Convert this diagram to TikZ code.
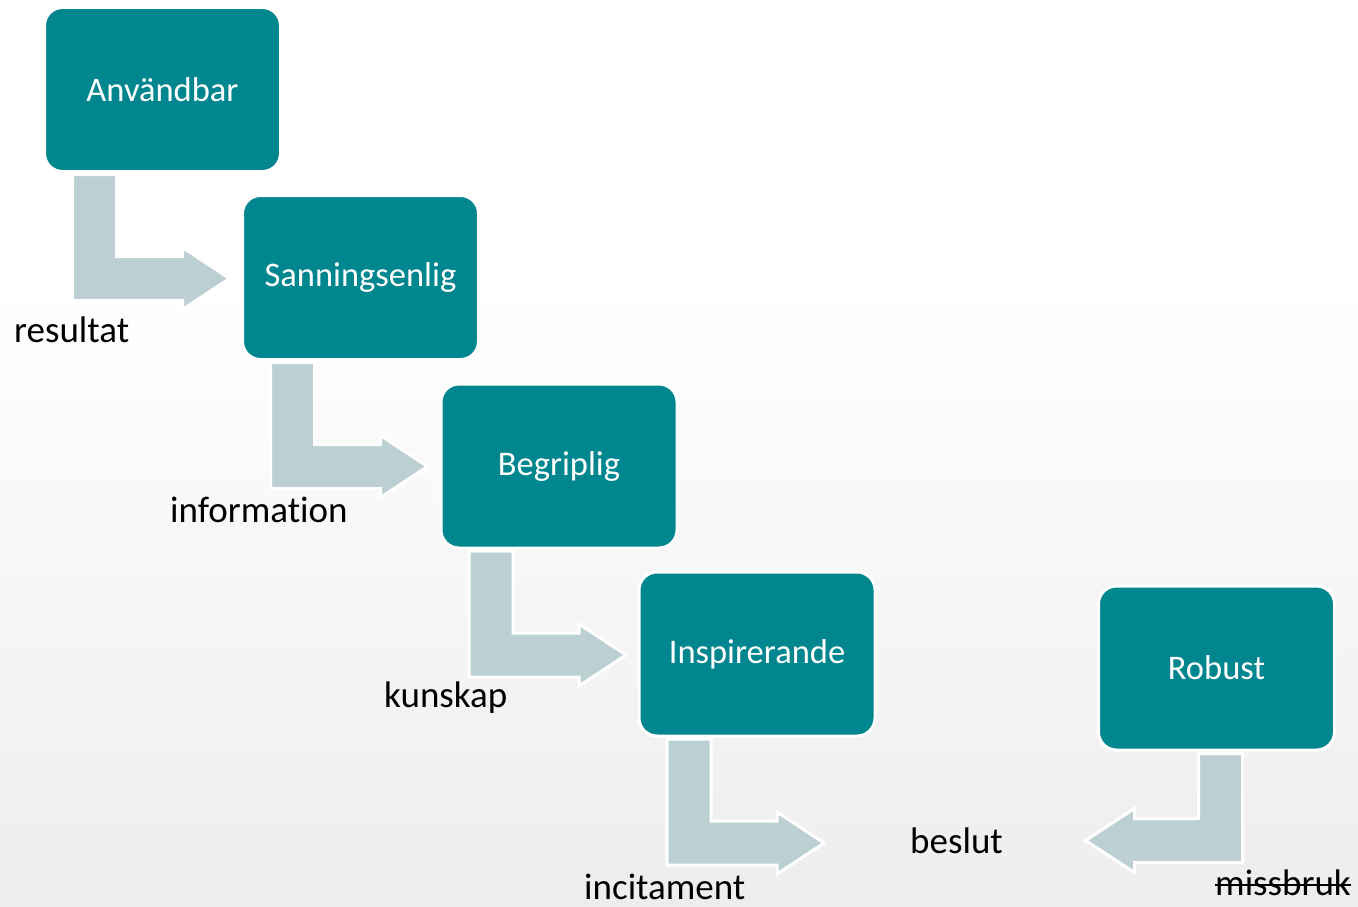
\documentclass[tikz,border=0pt]{standalone}
\usepackage{fontspec}
\setmainfont{Carlito}[Ligatures=NoCommon]
\definecolor{boxteal}{RGB}{0,134,143}
\definecolor{arrowgrey}{RGB}{188,207,211}
\begin{document}
\begin{tikzpicture}[x=1pt,y=-1pt,
  box/.style={draw=white, line width=3pt, fill=boxteal, rounded corners=18pt, minimum width=236pt, minimum height=164pt, outer sep=0pt, text=white, font=\fontsize{34.5}{40}\selectfont},
  bentarrow/.style={fill=arrowgrey, draw=white, line width=3pt, line join=miter},
  lbl/.style={anchor=base west, inner sep=0pt, font=\fontsize{37}{42}\selectfont}]
\useasboundingbox (0,0) rectangle (1358,907);
\fill[white] (0,0) rectangle (1358,907);
\shade[top color=white, bottom color=gray!14] (0,280) rectangle (1358,907);

\node[box] (1) at (162.5,89.5) {Användbar};
\node[box] (2) at (360.5,277.5) {Sanningsenlig};
\node[box] (3) at (559,466) {Begriplig};
\node[box] (4) at (757,654) {Inspirerande};
\node[box] (5) at (1216.5,668) {Robust};

\node[lbl] (res) at (14,342) {resultat};
\node[lbl] (inf) at (170,522) {information};
\node[lbl] (kun) at (384,707) {kunskap};
\node[lbl] (inc) at (584,899) {incitament};
\node[lbl] (bes) at (910,853) {beslut};
\node[lbl] (mis) at (1215,895) {missbruk};
% strike-through
\draw[line width=2pt] ([yshift=10pt]mis.base west) -- ([yshift=10pt]mis.base east);

\foreach \a in {1,2,3,4}
  \path[bentarrow] ([shift={(28,3)}]\a.south west) -- ++(44,0) -- ++(0,82) -- ++(66,0) -- ++(0,-9)
    -- ++(47,31) -- ++(-47,31) -- ++(0,-9) -- ++(-110,0) -- cycle;
\path[bentarrow] ([shift={(-92,3.5)}]5.south east) -- ++(0,109) -- ++(-108,0) -- ++(0,10)
  -- ++(-49,-32) -- ++(49,-32) -- ++(0,10) -- ++(64,0) -- ++(0,-65) -- cycle;
\end{tikzpicture}
\end{document}
